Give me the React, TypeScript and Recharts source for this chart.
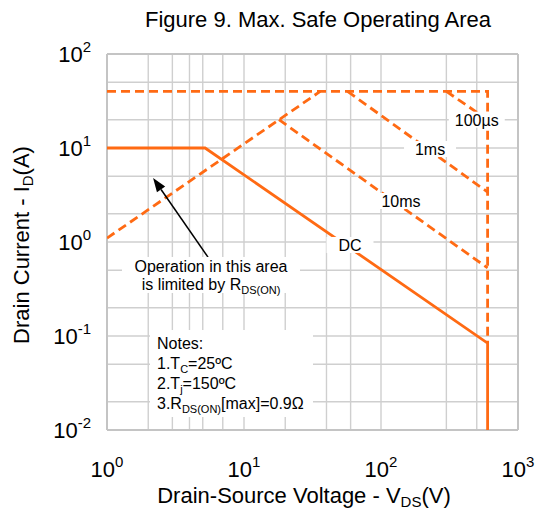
import React from "react";
import { LineChart, Line, XAxis, YAxis, CartesianGrid, ReferenceDot, ReferenceLine } from "recharts";

// SOA curves, drain-source voltage (V) vs drain current (A)
const dcVolts = [1, 5.2, 600, 600];
const dcAmps = [10, 10, 0.084, 0.01];
const limitVolts = [1, 600, 600];
const limitAmps = [40, 40, 0.084];
const us100Volts = [300, 600];
const us100Amps = [40, 20];
const ms1Volts = [57, 600];
const ms1Amps = [40, 3.4];
const ms10Volts = [18, 600];
const ms10Amps = [20, 0.53];
const rdsVolts = [1, 36];
const rdsAmps = [1.1, 40];

const xTicks = [1, 10, 100, 1000];
const yTicks = [0.01, 0.1, 1, 10, 100];
const xGrid = [
  1, 2, 3, 4, 5, 6, 7, 8, 9, 10, 20, 30, 40, 50, 60, 70, 80, 90, 100, 200, 300, 400, 500, 600, 700, 800, 900, 1000,
];
const yGrid = [
  0.01, 0.02, 0.03, 0.04, 0.05, 0.06, 0.07, 0.08, 0.09, 0.1, 0.2, 0.3, 0.4, 0.5, 0.6, 0.7, 0.8, 0.9, 1, 2, 3, 4, 5, 6,
  7, 8, 9, 10, 20, 30, 40, 50, 60, 70, 80, 90, 100,
];

// curve labels, anchored in data coordinates
const curveLabels = [
  { text: "100µs", v: 500, i: 20, w: 56 },
  { text: "1ms", v: 228, i: 9.75, w: 52 },
  { text: "10ms", v: 140, i: 2.73, w: 55 },
  { text: "DC", v: 59.4, i: 0.93, w: 47 },
];

const zip = (xs: number[], ys: number[]) => xs.map((x, k) => ({ x, y: ys[k] }));

const ORANGE = "#ff6a13";
const FONT = "'Liberation Sans', Arial, sans-serif";

const XTick = (props: any) => {
  const { x, y, payload } = props;
  const exp = Math.round(Math.log10(payload.value));
  return (
    <text x={x} y={y + 39} textAnchor="middle" fontFamily={FONT} fontSize={22} fill="#000">
      10
      <tspan dy={-10} fontSize={15}>
        {exp}
      </tspan>
    </text>
  );
};

const YTick = (props: any) => {
  const { x, y, payload } = props;
  const exp = Math.round(Math.log10(payload.value));
  const label = exp < 0 ? "-" + Math.abs(exp) : String(exp);
  return (
    <text x={x - 8} y={y + 8} textAnchor="end" fontFamily={FONT} fontSize={22} fill="#000">
      10
      <tspan dy={-10} fontSize={15}>
        {label}
      </tspan>
    </text>
  );
};

const LabelBox = (props: any) => {
  const { cx, cy, text, w } = props;
  return (
    <g>
      <rect x={cx - w / 2} y={cy - 8} width={w} height={16} fill="#fff" />
      <text x={cx} y={cy + 6} textAnchor="middle" fontFamily={FONT} fontSize={16} fill="#000">
        {text}
      </text>
    </g>
  );
};

const RdsNote = (props: any) => {
  const { cx, cy } = props;
  return (
    <g fontFamily={FONT} fontSize={16} fill="#000">
      <rect x={cx - 89} y={cy - 18} width={178} height={36} fill="#fff" />
      <text x={cx} y={cy - 3} textAnchor="middle">
        Operation in this area
      </text>
      <text x={cx} y={cy + 15} textAnchor="middle">
        is limited by R
        <tspan fontSize={11} dy={4}>
          DS(ON)
        </tspan>
      </text>
    </g>
  );
};

const Notes = (props: any) => {
  const { cx, cy } = props;
  const left = cx - 74;
  return (
    <g fontFamily={FONT} fontSize={16} fill="#000">
      <rect x={cx - 81} y={cy - 43} width={163} height={87} fill="#fff" />
      <text x={left} y={cy - 24}>
        Notes:
      </text>
      <text x={left} y={cy - 4}>
        1.T
        <tspan fontSize={11} dy={4}>
          C
        </tspan>
        <tspan dy={-4}>=25ºC</tspan>
      </text>
      <text x={left} y={cy + 16}>
        2.T
        <tspan fontSize={11} dy={4}>
          j
        </tspan>
        <tspan dy={-4}>=150ºC</tspan>
      </text>
      <text x={left} y={cy + 36}>
        3.R
        <tspan fontSize={11} dy={4}>
          DS(ON)
        </tspan>
        <tspan dy={-4}>[max]=0.9Ω</tspan>
      </text>
    </g>
  );
};

const Arrow = (props: any) => {
  const { x1, y1, x2, y2 } = props;
  // head at second point
  const ang = Math.atan2(y2 - y1, x2 - x1);
  const L = 14;
  const W = 5;
  const bx = x2 - L * Math.cos(ang);
  const by = y2 - L * Math.sin(ang);
  const px = -Math.sin(ang) * W;
  const py = Math.cos(ang) * W;
  return (
    <g>
      <line x1={x1} y1={y1} x2={bx} y2={by} stroke="#000" strokeWidth={1.5} />
      <polygon points={`${x2},${y2} ${bx + px},${by + py} ${bx - px},${by - py}`} fill="#000" />
    </g>
  );
};

export default function App() {
  return (
    <div style={{ position: "absolute", left: 0, top: 0, width: 536, height: 516, background: "#fff" }}>
      <LineChart width={536} height={516} margin={{ top: 54, right: 18, left: 0, bottom: 0 }}>
        <CartesianGrid stroke="#cfcfcf" strokeWidth={1.4} horizontalValues={yGrid} verticalValues={xGrid} />
        <XAxis
          dataKey="x"
          type="number"
          scale="log"
          domain={[1, 1000]}
          ticks={xTicks}
          tick={<XTick />}
          tickLine={false}
          axisLine={false}
          height={86}
          allowDataOverflow
        />
        <YAxis
          dataKey="y"
          type="number"
          scale="log"
          domain={[0.01, 100]}
          ticks={yTicks}
          tick={<YTick />}
          tickLine={false}
          axisLine={false}
          width={107}
          allowDataOverflow
        />
        <ReferenceLine x={1} stroke="#c4c4c4" strokeWidth={2} />
        <ReferenceLine x={1000} stroke="#c4c4c4" strokeWidth={2} />
        <ReferenceLine y={0.01} stroke="#c4c4c4" strokeWidth={2} />
        <ReferenceLine y={100} stroke="#c4c4c4" strokeWidth={2} />
        <Line data={zip(limitVolts, limitAmps)} dataKey="y" stroke={ORANGE} strokeWidth={2.8} strokeDasharray="9 5" dot={false} isAnimationActive={false} />
        <Line data={zip(rdsVolts, rdsAmps)} dataKey="y" stroke={ORANGE} strokeWidth={2.8} strokeDasharray="9 5" dot={false} isAnimationActive={false} />
        <Line data={zip(us100Volts, us100Amps)} dataKey="y" stroke={ORANGE} strokeWidth={2.8} strokeDasharray="9 5" dot={false} isAnimationActive={false} />
        <Line data={zip(ms1Volts, ms1Amps)} dataKey="y" stroke={ORANGE} strokeWidth={2.8} strokeDasharray="9 5" dot={false} isAnimationActive={false} />
        <Line data={zip(ms10Volts, ms10Amps)} dataKey="y" stroke={ORANGE} strokeWidth={2.8} strokeDasharray="9 5" dot={false} isAnimationActive={false} />
        <Line data={zip(dcVolts, dcAmps)} dataKey="y" stroke={ORANGE} strokeWidth={2.8} dot={false} isAnimationActive={false} />
        {curveLabels.map((l) => (
          <ReferenceDot key={l.text} x={l.v} y={l.i} r={0} shape={(p: any) => <LabelBox {...p} text={l.text} w={l.w} />} />
        ))}
        <ReferenceLine segment={[{ x: 5.46, y: 0.69 }, { x: 2.17, y: 4.8 }]} shape={(p: any) => <Arrow {...p} />} />
        <ReferenceDot x={5.74} y={0.446} r={0} shape={(p: any) => <RdsNote {...p} />} />
        <ReferenceDot x={8.04} y={0.0404} r={0} shape={(p: any) => <Notes {...p} />} />
      </LineChart>
      <svg width={536} height={516} style={{ position: "absolute", left: 0, top: 0, pointerEvents: "none" }}>
        <text x={318} y={27} textAnchor="middle" fontFamily={FONT} fontSize={22} fill="#000">
          Figure 9. Max. Safe Operating Area
        </text>
        <text x={304} y={503} textAnchor="middle" fontFamily={FONT} fontSize={22} fill="#000">
          Drain-Source Voltage - V
          <tspan fontSize={15} dy={4}>
            DS
          </tspan>
          <tspan dy={-4}>(V)</tspan>
        </text>
        <text transform="translate(29,245) rotate(-90)" textAnchor="middle" fontFamily={FONT} fontSize={22} fill="#000">
          Drain Current - I
          <tspan fontSize={15} dy={4}>
            D
          </tspan>
          <tspan dy={-4}>(A)</tspan>
        </text>
      </svg>
    </div>
  );
}
